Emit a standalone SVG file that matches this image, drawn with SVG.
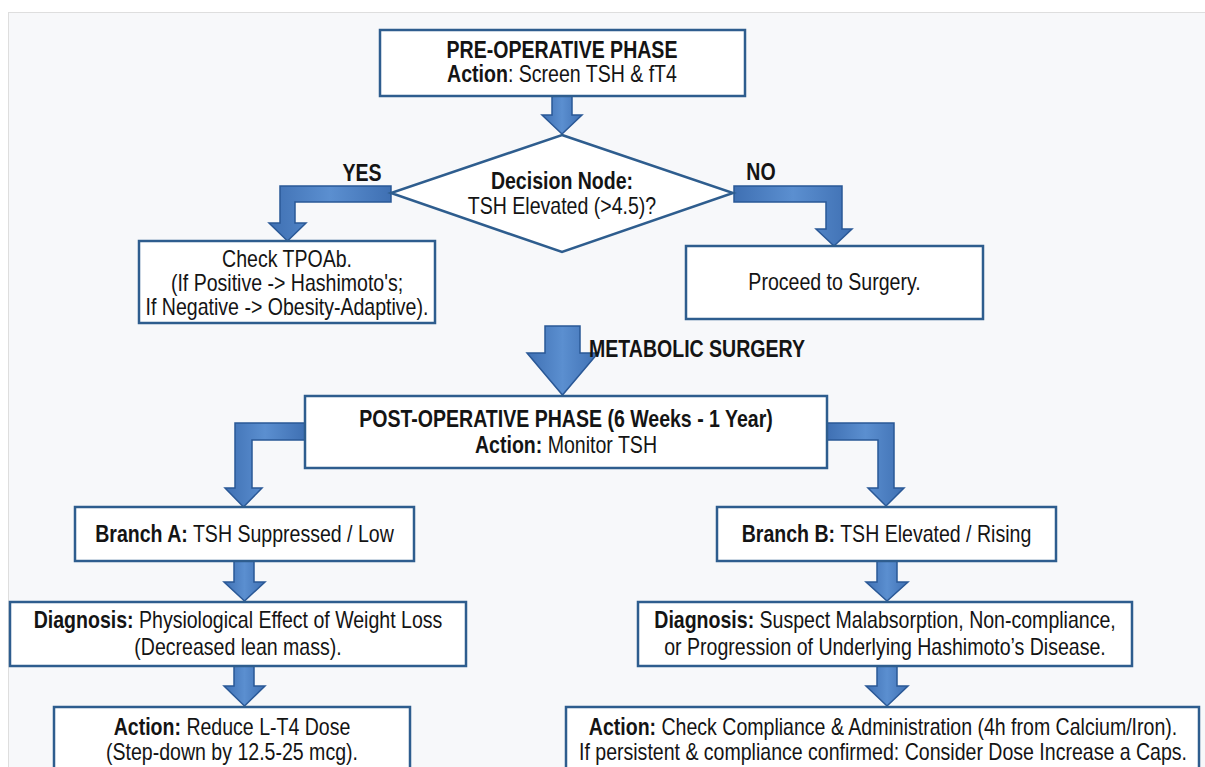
<svg xmlns="http://www.w3.org/2000/svg" width="1205" height="767" viewBox="0 0 1205 767">
<style>
.bx{fill:#ffffff;stroke:#2e5d8e;stroke-width:2.5}
.dm{fill:#ffffff;stroke:#2e5d8e;stroke-width:2.5}
.ar{fill:url(#ag);stroke:#2a5896;stroke-width:1.5;stroke-linejoin:miter}
.t{font-family:"Liberation Sans Narrow","Liberation Sans",Arial,sans-serif;font-size:23px;fill:#141414;text-anchor:middle}
.b{font-weight:bold}
</style>
<defs>
<linearGradient id="ag" x1="0" y1="0" x2="1" y2="0">
<stop offset="0" stop-color="#3f70b3"/>
<stop offset="0.5" stop-color="#5b8fd0"/>
<stop offset="1" stop-color="#3f70b3"/>
</linearGradient>
</defs>
<rect x="0" y="0" width="1205" height="767" fill="#ffffff"/>
<rect x="8.5" y="12.5" width="1205" height="760" fill="#f7f8fa" stroke="#dedede" stroke-width="1"/>

<g id="connectors">
<polygon class="ar" points="552,96 572,96 572,115 582,115 562,134 542,115 552,115"/>
<polygon class="ar" points="391,186 280,186 280,223 269,223 287.5,241 306,223 295,223 295,202 391,202"/>
<polygon class="ar" points="734,186 842,186 842,229 852,229 834,246 816,229 826,229 826,202 734,202"/>
<polygon class="ar" points="545,326 580,326 580,353 598,353 562.5,395 527,353 545,353"/>
<polygon class="ar" points="305,423 235,423 235,488 225,488 243.5,507 262,488 252,488 252,440 305,440"/>
<polygon class="ar" points="827,423 894,423 894,488 904,488 886,506 868,488 878,488 878,440 827,440"/>
<polygon class="ar" points="234,561 254,561 254,582 265,582 244.5,601 224,582 234,582"/>
<polygon class="ar" points="234,666 254,666 254,686 265,686 244.5,706 224,686 234,686"/>
<polygon class="ar" points="877,561 897,561 897,582 908,582 887,601 866,582 877,582"/>
<polygon class="ar" points="877,666 897,666 897,686 908,686 887,706 866,686 877,686"/>
<text class="t b" transform="translate(362,181) scale(0.85,1)">YES</text>
<text class="t b" transform="translate(761,180) scale(0.85,1)">NO</text>
<text class="t b" transform="translate(589,357) scale(0.85,1)" style="text-anchor:start">METABOLIC SURGERY</text>
</g>

<g id="pre-op">
<rect class="bx" x="380" y="30" width="365" height="66"/>
<text class="t b" transform="translate(562,58) scale(0.85,1)">PRE-OPERATIVE PHASE</text>
<text class="t" transform="translate(562,82) scale(0.85,1)"><tspan class="b">Action</tspan>: Screen TSH &amp; fT4</text>
</g>

<g id="decision">
<polygon class="dm" points="562,135 733,193 562,252 391,193"/>
<text class="t b" transform="translate(562,189) scale(0.85,1)">Decision Node:</text>
<text class="t" transform="translate(562,214) scale(0.85,1)">TSH Elevated (&gt;4.5)?</text>
</g>

<g id="check-tpoab">
<rect class="bx" x="139" y="241" width="296" height="82"/>
<text class="t" transform="translate(287,267) scale(0.85,1)">Check TPOAb.</text>
<text class="t" transform="translate(287,291) scale(0.85,1)">(If Positive -&gt; Hashimoto's;</text>
<text class="t" transform="translate(287,315) scale(0.85,1)">If Negative -&gt; Obesity-Adaptive).</text>
</g>

<g id="proceed">
<rect class="bx" x="686" y="246" width="297" height="73"/>
<text class="t" transform="translate(834.5,290) scale(0.85,1)">Proceed to Surgery.</text>
</g>

<g id="post-op">
<rect class="bx" x="305" y="396" width="522" height="72"/>
<text class="t b" transform="translate(566,427) scale(0.85,1)">POST-OPERATIVE PHASE (6 Weeks - 1 Year)</text>
<text class="t" transform="translate(566,453) scale(0.85,1)"><tspan class="b">Action:</tspan> Monitor TSH</text>
</g>

<g id="branch-a">
<rect class="bx" x="75" y="507" width="339" height="54"/>
<text class="t" transform="translate(244.5,542) scale(0.85,1)"><tspan class="b">Branch A:</tspan> TSH Suppressed / Low</text>
</g>

<g id="branch-b">
<rect class="bx" x="717" y="507" width="339" height="54"/>
<text class="t" transform="translate(886.5,542) scale(0.85,1)"><tspan class="b">Branch B:</tspan> TSH Elevated / Rising</text>
</g>

<g id="diagnosis-a">
<rect class="bx" x="10" y="602" width="456" height="64"/>
<text class="t" transform="translate(238,628) scale(0.85,1)"><tspan class="b">Diagnosis:</tspan> Physiological Effect of Weight Loss</text>
<text class="t" transform="translate(238,655) scale(0.85,1)">(Decreased lean mass).</text>
</g>

<g id="diagnosis-b">
<rect class="bx" x="638" y="602" width="494" height="64"/>
<text class="t" transform="translate(885,628) scale(0.85,1)"><tspan class="b">Diagnosis:</tspan> Suspect Malabsorption, Non-compliance,</text>
<text class="t" transform="translate(885,655) scale(0.85,1)">or Progression of Underlying Hashimoto’s Disease.</text>
</g>

<g id="action-a">
<rect class="bx" x="54" y="707" width="356" height="80"/>
<text class="t" transform="translate(232,735) scale(0.85,1)"><tspan class="b">Action:</tspan> Reduce L-T4 Dose</text>
<text class="t" transform="translate(232,760) scale(0.85,1)">(Step-down by 12.5-25 mcg).</text>
</g>

<g id="action-b">
<rect class="bx" x="566" y="707" width="633" height="80"/>
<text class="t" transform="translate(883,735) scale(0.85,1)"><tspan class="b">Action:</tspan> Check Compliance &amp; Administration (4h from Calcium/Iron).</text>
<text class="t" transform="translate(883,760) scale(0.85,1)">If persistent &amp; compliance confirmed: Consider Dose Increase a Caps.</text>
</g>
</svg>
